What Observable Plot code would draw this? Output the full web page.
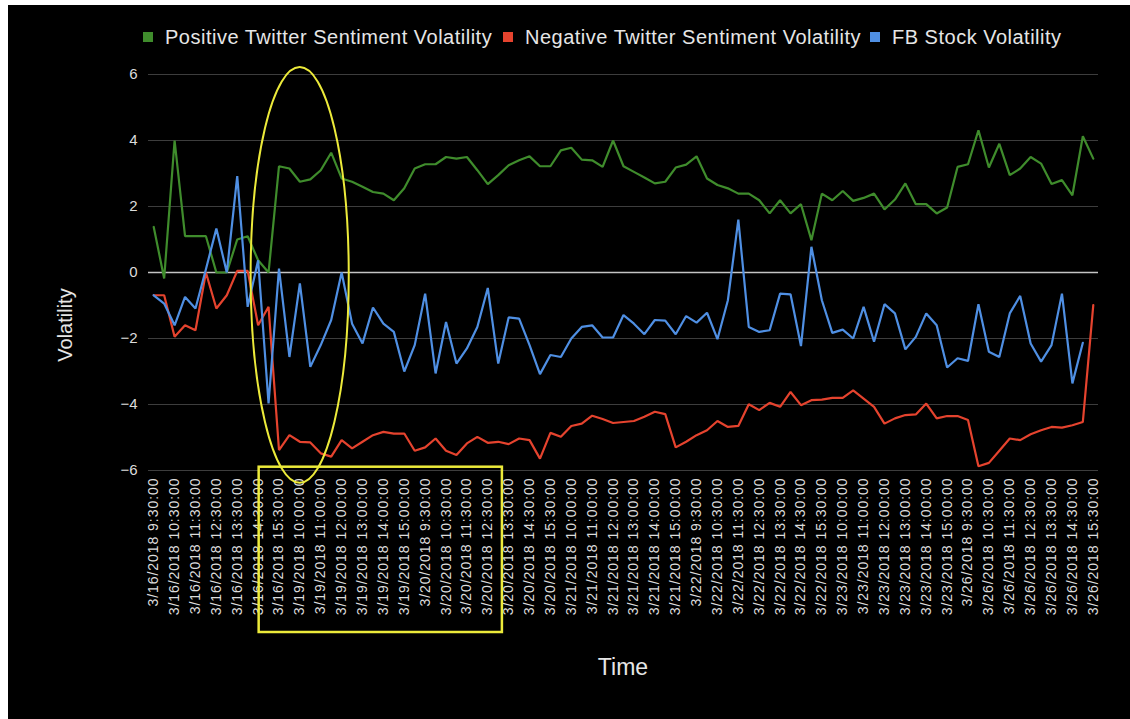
<!DOCTYPE html>
<html><head><meta charset="utf-8">
<script src="https://cdn.jsdelivr.net/npm/d3@7"></script>
<script src="https://cdn.jsdelivr.net/npm/@observablehq/plot@0.6"></script>
<style>
html,body{margin:0;padding:0;background:#fff;width:1130px;height:719px;overflow:hidden;}
#frame{position:absolute;left:8px;top:5px;width:1122px;height:714px;background:#000;font-family:"Liberation Sans",Arial,sans-serif;}
#legend{position:relative;height:56px;}
.item{position:absolute;top:22px;height:20px;color:#e6e6e6;font-size:20px;line-height:20px;letter-spacing:0.5px;white-space:nowrap;}
.sw{position:absolute;left:0;top:5px;width:10px;height:10px;}
.lt{position:absolute;left:22px;top:0;}
#chart svg{display:block;}
g[aria-label="x-axis tick label"] text{letter-spacing:0.95px;}
</style></head>
<body>
<div id="frame">
  <div id="legend"></div>
  <div id="chart"></div>
</div>
<script>
const seriesNames = ["Positive Twitter Sentiment Volatility","Negative Twitter Sentiment Volatility","FB Stock Volatility"];
const seriesColors = ["#3f8c2c","#e5432e","#4f8fe3"];
const days = ["3/16/2018","3/19/2018","3/20/2018","3/21/2018","3/22/2018","3/23/2018","3/26/2018"];
const slots = ["9:30:00","10:00:00","10:30:00","11:00:00","11:30:00","12:00:00","12:30:00","13:00:00","13:30:00","14:00:00","14:30:00","15:00:00","15:30:00"];
const categories = days.flatMap(d => slots.map(s => d + " " + s));

const positive = [1.38,-0.18,4.0,1.1,1.1,1.1,0.0,0.0,1.0,1.1,0.37,0.0,3.22,
  3.15,2.75,2.82,3.1,3.63,2.85,2.75,2.6,2.44,2.39,2.19,2.55,3.15,
  3.28,3.28,3.5,3.45,3.5,3.1,2.68,2.95,3.25,3.4,3.52,3.22,3.22,
  3.7,3.78,3.42,3.4,3.2,4.0,3.22,3.05,2.88,2.7,2.75,3.18,3.27,
  3.52,2.85,2.65,2.55,2.39,2.39,2.19,1.79,2.19,1.79,2.07,0.98,2.39,
  2.19,2.47,2.17,2.26,2.39,1.91,2.21,2.7,2.07,2.07,1.79,1.97,3.2,
  3.28,4.31,3.18,3.9,2.95,3.15,3.5,3.3,2.68,2.8,2.34,4.13,3.45];
const negative = [-0.69,-0.69,-1.95,-1.6,-1.75,0.0,-1.09,-0.69,0.05,0.05,-1.6,-1.04,-5.38,
  -4.93,-5.13,-5.15,-5.48,-5.58,-5.08,-5.33,-5.13,-4.93,-4.83,-4.88,-4.88,-5.4,
  -5.3,-5.03,-5.4,-5.53,-5.18,-4.98,-5.16,-5.13,-5.2,-5.03,-5.08,-5.64,-4.86,
  -4.98,-4.65,-4.58,-4.34,-4.44,-4.56,-4.53,-4.5,-4.37,-4.22,-4.29,-5.3,-5.13,
  -4.93,-4.78,-4.5,-4.68,-4.65,-3.99,-4.17,-3.95,-4.07,-3.62,-4.02,-3.87,-3.85,
  -3.8,-3.8,-3.57,-3.82,-4.07,-4.58,-4.42,-4.32,-4.3,-3.97,-4.42,-4.35,-4.35,
  -4.47,-5.87,-5.77,-5.4,-5.03,-5.08,-4.9,-4.78,-4.68,-4.7,-4.63,-4.53,-0.99];
const fbStock = [-0.69,-0.94,-1.6,-0.74,-1.09,0.1,1.33,0.0,2.92,-1.04,0.37,-3.97,0.12,
  -2.56,-0.33,-2.86,-2.2,-1.44,0.0,-1.55,-2.15,-1.06,-1.55,-1.8,-3.0,-2.2,
  -0.64,-3.06,-1.5,-2.76,-2.3,-1.65,-0.47,-2.76,-1.36,-1.4,-2.2,-3.08,-2.5,
  -2.56,-2.0,-1.65,-1.6,-1.97,-1.97,-1.29,-1.55,-1.87,-1.44,-1.46,-1.87,-1.32,
  -1.52,-1.22,-2.02,-0.84,1.6,-1.65,-1.8,-1.75,-0.64,-0.66,-2.23,0.78,-0.84,
  -1.83,-1.73,-2.0,-1.04,-2.1,-0.96,-1.24,-2.33,-1.95,-1.24,-1.6,-2.88,-2.6,
  -2.68,-0.96,-2.4,-2.56,-1.24,-0.71,-2.15,-2.7,-2.2,-0.64,-3.36,-2.13,null];
const yTicks = [-6,-4,-2,0,2,4,6];
const tickIndex = categories.map((c, i) => i).filter(i => i % 2 === 0);

// legend
const legendX = [135, 495, 862];
const legend = document.getElementById("legend");
seriesNames.forEach((n, k) => {
  const it = document.createElement("div");
  it.className = "item";
  it.style.left = legendX[k] + "px";
  it.innerHTML = `<div class="sw" style="background:${seriesColors[k]}"></div><div class="lt"></div>`;
  it.querySelector(".lt").textContent = n;
  legend.appendChild(it);
});

const all = [positive, negative, fbStock];
const rows = all.flatMap((arr, k) => arr.map((v, i) => ({i, v, s: seriesNames[k]})));

const W = 1122, H = 658;
const chart = Plot.plot({
  width: W, height: H,
  marginLeft: 140, marginRight: 32, marginTop: 13, marginBottom: 249,
  style: {background: "transparent", color: "#dcdcdc", fontFamily: "Liberation Sans, Arial, sans-serif"},
  x: {domain: [-0.5, 90.5], axis: null},
  y: {domain: [-6, 6], axis: null},
  marks: [
    Plot.ruleY(yTicks.filter(t => t !== 0), {stroke: "#3d3d3d", strokeWidth: 1}),
    Plot.ruleY([0], {stroke: "#c4c4c4", strokeWidth: 1.3}),
    Plot.axisY({ticks: yTicks, tickSize: 0, tickPadding: 11, fontSize: 15, label: null}),
    Plot.axisX({ticks: tickIndex, tickFormat: i => categories[i], tickRotate: -90, tickSize: 0, tickPadding: 7, fontSize: 14, label: null}),
    ...all.map((arr, k) => Plot.line(rows.filter(r => r.s === seriesNames[k]), {x: "i", y: "v", stroke: seriesColors[k], strokeWidth: 2.2, strokeLinejoin: "miter"}))
  ]
});
document.getElementById("chart").appendChild(chart);

const svg = d3.select(chart);
const xs = chart.scale("x"), ys = chart.scale("y");
// axis titles
svg.append("text").attr("transform", `translate(64,${264}) rotate(-90)`)
  .attr("text-anchor", "middle").attr("fill", "#e6e6e6").attr("font-size", 20).text("Volatility");
svg.append("text").attr("x", 615).attr("y", 614)
  .attr("text-anchor", "middle").attr("fill", "#e6e6e6").attr("font-size", 23).text("Time");

// yellow hand-drawn annotations
const ell = {ci: 14.03, cv: -0.09, ri: 4.7, rv: 6.3};
svg.append("ellipse")
  .attr("cx", xs.apply(ell.ci)).attr("cy", ys.apply(ell.cv))
  .attr("rx", xs.apply(ell.ci + ell.ri) - xs.apply(ell.ci))
  .attr("ry", ys.apply(ell.cv - ell.rv) - ys.apply(ell.cv))
  .attr("fill", "none").attr("stroke", "#ecea3a").attr("stroke-width", 2);
const box = {i0: 10.1, i1: 33.4, v0: -5.9};
svg.append("rect")
  .attr("x", xs.apply(box.i0)).attr("y", ys.apply(box.v0))
  .attr("width", xs.apply(box.i1) - xs.apply(box.i0))
  .attr("height", ys.apply(-6) + 162 - ys.apply(box.v0))
  .attr("fill", "none").attr("stroke", "#ecea3a").attr("stroke-width", 2.5);
</script>
</body></html>
